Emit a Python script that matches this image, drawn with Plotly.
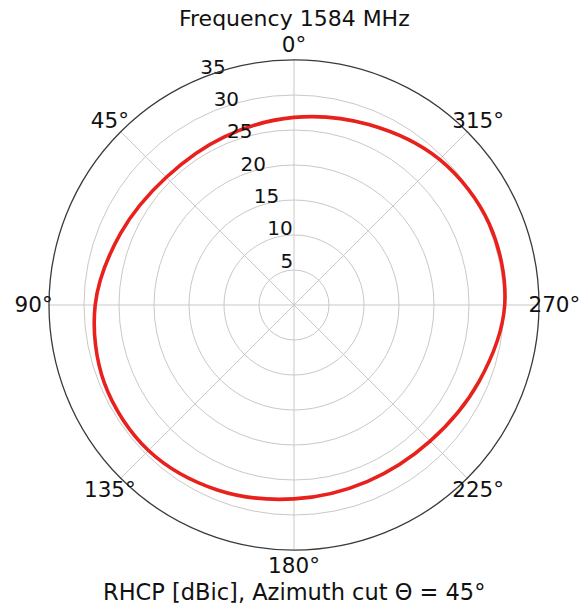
import plotly.graph_objects as go

# Azimuth angle (deg) and RHCP gain (dBic)
theta_deg = [0, 22.5, 45, 67.5, 90, 112.5, 135, 157.5, 180, 202.5, 225, 247.5, 270, 292.5, 315, 337.5, 360]
gain_dbic = [26.8, 26.0, 25.8, 26.8, 28.4, 29.3, 29.4, 28.6, 27.7, 27.3, 27.5, 28.6, 30.1, 30.2, 29.4, 27.9, 26.8]

radial_ticks = [5, 10, 15, 20, 25, 30, 35]
radial_label_angle = 22.5
angular_ticks = [0, 45, 90, 135, 180, 225, 270, 315]
angular_label_r = 37.2

title_text = "Frequency 1584 MHz"
xlabel_text = "RHCP [dBic], Azimuth cut \u0398 = 45\u00b0"

FONT = "DejaVu Sans, sans-serif"
TXT = "#111111"
W, H = 586, 607
CX, CY, RPX = 294, 305, 245          # centre and outer radius of the polar area (px)
CY2, R2PX = 307, 280                  # label layer centre/radius (px) for range 0..40

fig = go.Figure()
fig.add_trace(go.Scatterpolar(
    r=gain_dbic, theta=theta_deg, mode="lines",
    line=dict(color="#e8211d", width=3.6, shape="spline", smoothing=1.0),
    showlegend=False, hoverinfo="skip", subplot="polar",
))
# radial tick labels (matplotlib-style, along 22.5 deg)
fig.add_trace(go.Scatterpolar(
    r=radial_ticks, theta=[radial_label_angle] * len(radial_ticks),
    mode="text", text=[str(v) for v in radial_ticks],
    textposition="top right", cliponaxis=False,
    textfont=dict(family=FONT, size=20, color=TXT),
    showlegend=False, hoverinfo="skip", subplot="polar",
))
# angular tick labels centred just outside the outer circle (overlay polar with same scale)
fig.add_trace(go.Scatterpolar(
    r=[angular_label_r] * len(angular_ticks), theta=angular_ticks,
    mode="text", text=[f"{a}\u00b0" for a in angular_ticks],
    textposition="middle center", cliponaxis=False,
    textfont=dict(family=FONT, size=21.5, color=TXT),
    showlegend=False, hoverinfo="skip", subplot="polar2",
))

grid = "#cdc7c7"
fig.update_layout(
    width=W, height=H,
    margin=dict(l=0, r=0, t=0, b=0),
    paper_bgcolor="white",
    font=dict(family=FONT, size=20, color=TXT),
    polar=dict(
        domain=dict(x=[(CX - RPX) / W, (CX + RPX) / W],
                    y=[(H - CY - RPX) / H, (H - CY + RPX) / H]),
        bgcolor="white",
        angularaxis=dict(
            rotation=90, direction="counterclockwise",
            tickmode="array", tickvals=angular_ticks, showticklabels=False,
            showline=True, linecolor="#3a3a3a", linewidth=1.3,
            gridcolor=grid, gridwidth=1, ticks="",
        ),
        radialaxis=dict(
            range=[0, 35], tickmode="array", tickvals=radial_ticks,
            showticklabels=False, angle=112.5, showline=False, ticks="",
            gridcolor=grid, gridwidth=1,
        ),
    ),
    polar2=dict(
        domain=dict(x=[(CX - R2PX) / W, (CX + R2PX) / W],
                    y=[(H - CY2 - R2PX) / H, (H - CY2 + R2PX) / H]),
        bgcolor="rgba(0,0,0,0)",
        angularaxis=dict(rotation=90, direction="counterclockwise",
                         showticklabels=False, showline=False, showgrid=False, ticks=""),
        radialaxis=dict(range=[0, 40], showticklabels=False, showline=False,
                        showgrid=False, ticks=""),
    ),
    dragmode=False,
)
fig.add_annotation(text=title_text, xref="paper", yref="paper", x=CX / W, y=1.0,
                   yshift=-18, showarrow=False, xanchor="center", yanchor="middle",
                   font=dict(family=FONT, size=22, color=TXT))
fig.add_annotation(text=xlabel_text, xref="paper", yref="paper", x=CX / W, y=0.0,
                   yshift=15, showarrow=False, xanchor="center", yanchor="middle",
                   font=dict(family=FONT, size=22.5, color=TXT))

fig.write_html("out.html", config={"displayModeBar": False},
               post_script="document.body.style.margin='0';")
